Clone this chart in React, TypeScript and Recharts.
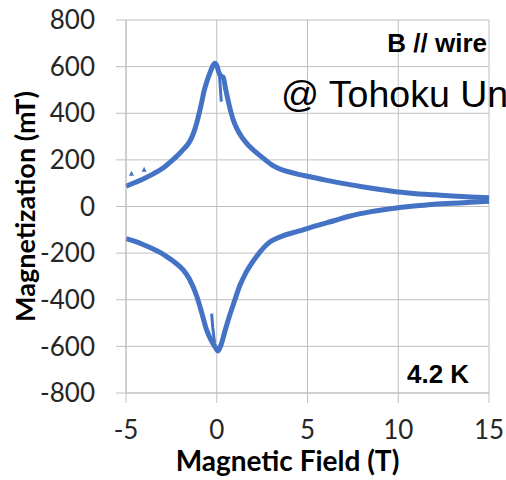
import React from 'react';
import { ComposedChart, Line, Scatter, XAxis, YAxis, CartesianGrid } from 'recharts';

const fieldTicks = [-5, 0, 5, 10, 15];
const magTicks = [-800, -600, -400, -200, 0, 200, 400, 600, 800];

// upper branch (field sweep down)
const upperField = [-5, -4.5, -4, -3.5, -3, -2.5, -2.2, -2, -1.8, -1.6, -1.4, -1.2, -1, -0.85, -0.7, -0.55, -0.4, -0.25, -0.1, 0, 0.1, 0.2, 0.35, 0.5, 0.7, 0.9, 1.1, 1.4, 1.8, 2.2, 2.6, 3.1, 3.6, 4, 4.5, 5, 6, 7, 8, 9, 10, 11, 12, 13, 14, 15];
const upperMag = [87, 103, 120, 140, 163, 195, 216, 232, 248, 266, 292, 333, 390, 440, 495, 535, 568, 598, 615, 605, 580, 562, 555, 500, 430, 373, 335, 295, 258, 230, 205, 175, 157, 148, 138, 130, 113, 98, 85, 73, 62, 55, 50, 45, 41, 38];

// lower branch (field sweep up)
const lowerField = [-5, -4.5, -4, -3.5, -3.1, -2.7, -2.3, -1.85, -1.5, -1.1, -0.85, -0.57, -0.3, -0.11, 0.07, 0.25, 0.45, 0.7, 1, 1.26, 1.6, 2.2, 2.8, 3.6, 4.5, 5.5, 6.5, 7.3, 8.5, 10, 11, 12, 13, 14, 15];
const lowerMag = [-138, -150, -165, -182, -198, -218, -240, -272, -312, -385, -450, -527, -575, -600, -620, -590, -535, -470, -400, -341, -285, -213, -160, -127, -106, -82, -60, -42, -22, -5, 3, 10, 14, 18, 22];

// small glitches near zero field
const spikeUpField = [0.15, 0.2, 0.25];
const spikeUpMag = [565, 505, 450];
const spikeLowField = [-0.28, -0.22, -0.12];
const spikeLowMag = [-460, -520, -585];

// stray points
const strayField = [-4.7, -4.0];
const strayMag = [141, 158];

const toPoints = (xs: number[], ys: number[]) => xs.map((x, i) => ({ x, y: ys[i] }));

const upper = toPoints(upperField, upperMag);
const lower = toPoints(lowerField, lowerMag);
const spikeUp = toPoints(spikeUpField, spikeUpMag);
const spikeLow = toPoints(spikeLowField, spikeLowMag);
const stray = toPoints(strayField, strayMag);

const BLUE = '#4472C4';
const GRID = '#bfbfbf';
const tickFont = { fontFamily: 'Lato', fontSize: 26, fill: '#262626' };

const SmallTriangle = (p: any) => (
  <path d={`M${p.cx},${p.cy - 3}L${p.cx + 2.5},${p.cy + 2}L${p.cx - 2.5},${p.cy + 2}Z`} fill={BLUE} />
);

export default function App() {
  return (
    <div style={{ position: 'absolute', left: 0, top: 0, width: 506, height: 480, overflow: 'hidden', background: '#fff' }}>
      <ComposedChart width={506} height={480} margin={{ top: 20, right: 17, bottom: 0, left: 0 }}>
        <CartesianGrid stroke={GRID} strokeWidth={1} />
        <XAxis
          type="number"
          dataKey="x"
          domain={[-5, 15]}
          ticks={fieldTicks}
          height={87}
          tickSize={10}
          tickMargin={18}
          tick={tickFont}
          tickLine={{ stroke: GRID }}
          axisLine={{ stroke: GRID }}
          label={{
            value: 'Magnetic Field (T)',
            position: 'insideBottom',
            offset: 9,
            dx: -20,
            style: { fontFamily: 'Lato', fontWeight: 700, fontSize: 28, fill: '#000' },
          }}
        />
        <YAxis
          type="number"
          dataKey="y"
          domain={[-800, 800]}
          ticks={magTicks}
          width={126}
          tickSize={10}
          tickMargin={21}
          tick={tickFont}
          tickLine={{ stroke: GRID }}
          axisLine={{ stroke: GRID }}
          label={{
            value: 'Magnetization (mT)',
            angle: -90,
            position: 'insideLeft',
            offset: 25,
            style: { textAnchor: 'middle', fontFamily: 'Lato', fontWeight: 700, fontSize: 27, fill: '#000' },
          }}
        />
        <Line data={upper} dataKey="y" type="monotone" stroke={BLUE} strokeWidth={5} strokeLinejoin="round" dot={false} isAnimationActive={false} />
        <Line data={lower} dataKey="y" type="monotone" stroke={BLUE} strokeWidth={5} strokeLinejoin="round" dot={false} isAnimationActive={false} />
        <Line data={spikeUp} dataKey="y" type="linear" stroke={BLUE} strokeWidth={3} dot={false} isAnimationActive={false} />
        <Line data={spikeLow} dataKey="y" type="linear" stroke={BLUE} strokeWidth={3} dot={false} isAnimationActive={false} />
        <Scatter data={stray} dataKey="y" shape={SmallTriangle} fill={BLUE} legendType="none" isAnimationActive={false} />
      </ComposedChart>
      <svg width={506} height={480} style={{ position: 'absolute', left: 0, top: 0, pointerEvents: 'none' }}>
        <text x={487} y={52} textAnchor="end" fontFamily="Liberation Sans" fontWeight={700} fontSize={26} fill="#000">B // wire</text>
        <text x={281} y={107} fontFamily="Liberation Sans" fontSize={37.5} fill="#000">@ Tohoku Un</text>
        <text x={407} y={383} fontFamily="Liberation Sans" fontWeight={700} fontSize={26} fill="#000">4.2 K</text>
      </svg>
    </div>
  );
}
